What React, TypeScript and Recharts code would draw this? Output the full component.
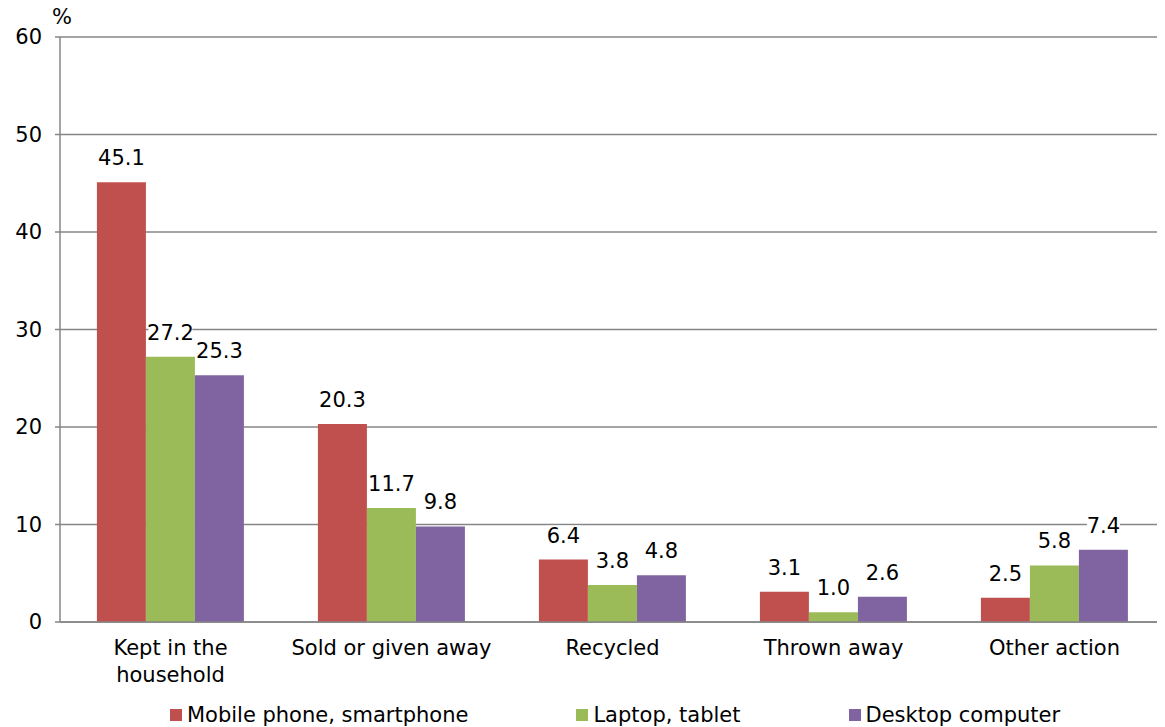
import { Bar, BarChart, CartesianGrid, LabelList, Legend, XAxis, YAxis } from "recharts";

const categories = ["Kept in the household", "Sold or given away", "Recycled", "Thrown away", "Other action"];
const mobile = [45.1, 20.3, 6.4, 3.1, 2.5];
const laptop = [27.2, 11.7, 3.8, 1.0, 5.8];
const desktop = [25.3, 9.8, 4.8, 2.6, 7.4];
const yTicks = [0, 10, 20, 30, 40, 50, 60];
const boundaryTicks = [0, 1, 2, 3, 4, 5];

const SERIES = [
  { key: "mobile", name: "Mobile phone, smartphone", color: "#C0504D" },
  { key: "laptop", name: "Laptop, tablet", color: "#9BBB59" },
  { key: "desktop", name: "Desktop computer", color: "#8064A2" },
];

const data = categories.map((name, i) => ({
  name,
  mobile: mobile[i],
  laptop: laptop[i],
  desktop: desktop[i],
}));

const FONT = "'DejaVu Sans', Verdana, sans-serif";
const FS = 21;
const AXIS = "#868686";

// simple word wrap by character count
function wrap(label: string, maxChars = 18) {
  const lines: string[] = [];
  let cur = "";
  for (const word of label.split(" ")) {
    const next = cur ? cur + " " + word : word;
    if (next.length > maxChars && cur) {
      lines.push(cur);
      cur = word;
    } else {
      cur = next;
    }
  }
  if (cur) lines.push(cur);
  return lines;
}

function CategoryTick({ x, y, payload }: any) {
  const lines = wrap(String(payload.value));
  return (
    <text x={x} y={y + 33} textAnchor="middle" fontSize={FS} fontFamily={FONT} fill="#000">
      {lines.map((line, i) => (
        <tspan key={i} x={x} dy={i === 0 ? 0 : 27}>
          {line}
        </tspan>
      ))}
    </text>
  );
}

function ValueLabel({ x, y, width, value }: any) {
  const text = Number(value).toFixed(1);
  const cx = x + width / 2;
  const base = y - 17;
  const w = text.length * 11;
  return (
    <g>
      <rect x={cx - w / 2} y={base - 17} width={w} height={22} fill="#fff" />
      <text x={cx} y={base} textAnchor="middle" fontSize={FS} fontFamily={FONT} fill="#000">
        {text}
      </text>
    </g>
  );
}

function LegendContent() {
  return (
    <div
      style={{
        display: "flex",
        justifyContent: "center",
        gap: 108,
        marginLeft: 57,
        fontFamily: FONT,
        fontSize: FS,
        color: "#000",
        height: 25,
        alignItems: "center",
      }}
    >
      {SERIES.map((s) => (
        <div key={s.key} style={{ display: "flex", alignItems: "center", gap: 5 }}>
          <span style={{ width: 12, height: 12, background: s.color, display: "inline-block" }} />
          <span>{s.name}</span>
        </div>
      ))}
    </div>
  );
}

export default function App() {
  return (
    <div style={{ position: "relative", width: 1157, height: 719 }}>
      <style>{"body{overflow:hidden}"}</style>
      <div
        style={{
          position: "absolute",
          left: 44,
          top: -3,
          fontFamily: FONT,
          fontSize: FS,
          color: "#000",
        }}
      >
        %
      </div>
      <BarChart
        width={1157}
        height={719}
        data={data}
        margin={{ top: 29, right: 0, bottom: 0, left: 0 }}
        barCategoryGap="16.7%"
        barGap={0}
      >
        <CartesianGrid vertical={false} stroke={AXIS} strokeWidth={1.5} />
        <XAxis
          xAxisId="bounds"
          type="number"
          domain={[0, 5]}
          ticks={boundaryTicks}
          tick={() => <g />}
          axisLine={false}
          tickSize={6}
          tickLine={{ stroke: AXIS, strokeWidth: 1.5 }}
          height={0}
        />
        <XAxis
          dataKey="name"
          tick={<CategoryTick />}
          tickLine={false}
          tickSize={0}
          tickMargin={0}
          axisLine={{ stroke: AXIS, strokeWidth: 1.5 }}
          interval={0}
          height={80}
        />
        <YAxis
          domain={[0, 60]}
          ticks={yTicks}
          width={52}
          tickSize={5}
          tickMargin={13}
          axisLine={{ stroke: AXIS, strokeWidth: 1.5 }}
          tickLine={{ stroke: AXIS, strokeWidth: 1.5 }}
          tick={{ fontSize: FS, fontFamily: FONT, fill: "#000" }}
        />
        <Legend verticalAlign="bottom" content={<LegendContent />} />
        {SERIES.map((s) => (
          <Bar key={s.key} dataKey={s.key} name={s.name} fill={s.color} isAnimationActive={false}>
            <LabelList dataKey={s.key} content={<ValueLabel />} />
          </Bar>
        ))}
      </BarChart>
    </div>
  );
}
